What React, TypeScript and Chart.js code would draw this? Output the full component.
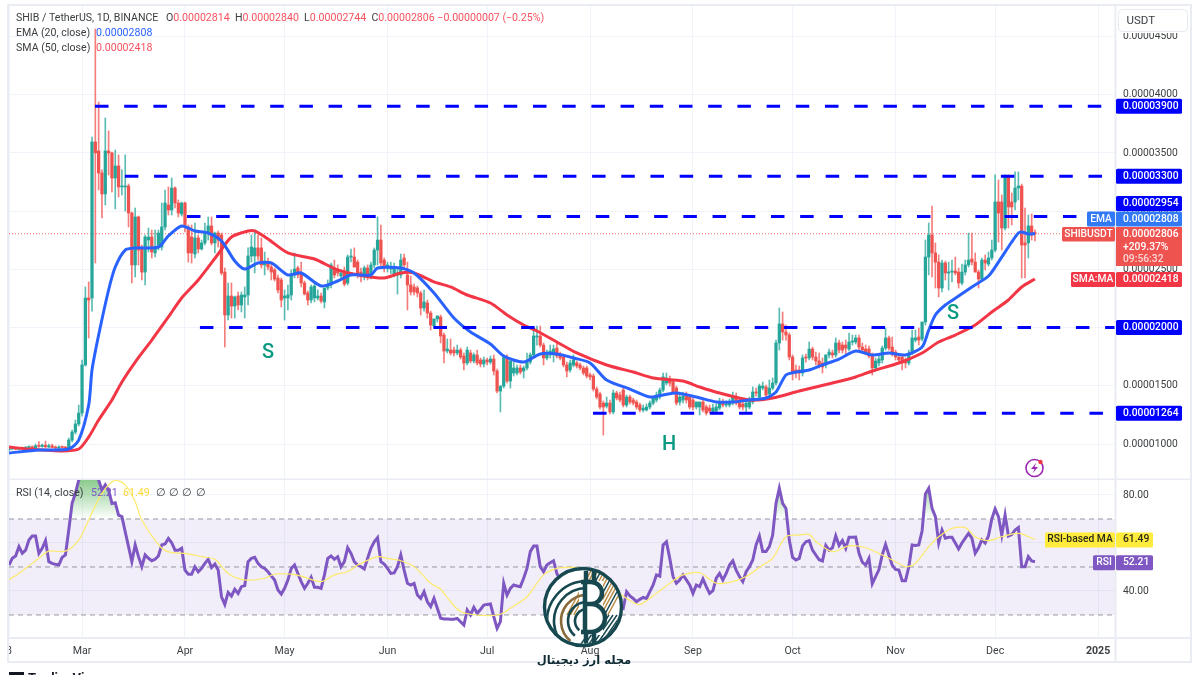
import { useEffect, useRef } from 'react';
import { Chart, registerables } from 'chart.js';

Chart.register(...registerables);
Chart.defaults.font.family = 'Roboto';

// one candle a day, prices in units of 0.00000001, first candle is index 0
const opens = [
  950,958,962,955,965,960,970,975,968,985,
  980,990,975,985,970,965,975,970,966,1034,
  1103,1172,1266,1679,2254,2254,3594,3517,3328,3148,
  3517,3500,3285,3388,3208,3208,3216,2984,2538,2950,
  2675,2477,2752,2778,2641,2709,2692,2864,3053,3010,
  3199,3070,2976,3070,2864,2778,2632,2770,2675,2727,
  2812,2873,2727,2812,2795,2477,2108,2271,2185,2271,
  2194,2263,2280,2615,2615,2684,2684,2538,2563,2520,
  2495,2426,2409,2254,2254,2280,2452,2512,2469,2383,
  2297,2237,2254,2254,2271,2220,2340,2366,2512,2503,
  2443,2469,2383,2606,2606,2563,2477,2435,2512,2435,
  2538,2666,2752,2580,2512,2503,2452,2452,2452,2598,
  2452,2366,2349,2340,2297,2168,2211,2125,2014,2074,
  2091,1936,1799,1807,1807,1782,1807,1756,1696,1782,
  1713,1765,1722,1687,1722,1704,1730,1627,1455,1498,
  1747,1541,1610,1610,1653,1627,1653,1704,1765,1919,
  1928,1850,1739,1765,1782,1824,1765,1747,1679,1636,
  1679,1696,1679,1653,1653,1593,1584,1472,1430,1352,
  1326,1352,1275,1438,1421,1464,1335,1404,1378,1361,
  1335,1292,1292,1318,1352,1378,1404,1464,1524,1550,
  1533,1481,1361,1378,1412,1404,1378,1318,1318,1361,
  1318,1309,1275,1283,1309,1361,1335,1335,1352,1404,
  1361,1344,1318,1318,1361,1447,1404,1481,1490,1430,
  1481,1524,1868,2031,1962,1936,1747,1636,1636,1610,
  1747,1739,1816,1747,1713,1696,1679,1765,1782,1765,
  1868,1850,1850,1816,1876,1876,1911,1833,1816,1816,
  1765,1653,1696,1722,1824,1911,1833,1790,1747,1747,
  1722,1696,1782,1893,1919,1902,2048,2606,2795,2641,
  2563,2340,2555,2469,2477,2486,2477,2383,2477,2538,
  2589,2563,2477,2417,2580,2546,2598,2666,3079,3079,
  2855,3294,3079,3079,3199,3216,2727,2727,2873,2814,
];
const highs = [
  965,972,970,972,975,980,985,985,1000,1020,
  1000,1025,1000,1000,985,985,985,980,1052,1120,
  1206,1335,1722,2349,2392,3637,4565,3938,3354,3800,
  3689,3508,3525,3483,3354,3483,3233,2993,3027,2958,
  2709,2795,2855,2838,2838,2838,3070,3182,3208,3285,
  3208,3096,3079,3079,2881,2881,2898,2795,2752,2898,
  2950,2950,2821,2830,2812,2512,2383,2383,2271,2306,
  2306,2349,2684,2795,2838,2795,2770,2649,2598,2563,
  2512,2452,2426,2323,2366,2495,2641,2529,2563,2400,
  2314,2366,2374,2323,2297,2340,2409,2555,2580,2538,
  2495,2520,2624,2675,2684,2580,2512,2529,2538,2563,
  2684,2950,2881,2598,2563,2563,2555,2512,2632,2632,
  2563,2443,2374,2357,2314,2323,2237,2142,2074,2100,
  2108,1953,1902,1902,1833,1850,1824,1782,1833,1807,
  1782,1807,1739,1747,1739,1756,1765,1644,1498,1765,
  1765,1739,1722,1679,1679,1670,1782,1782,2005,2014,
  2014,1868,1807,1850,1850,1876,1790,1765,1704,1722,
  1765,1713,1696,1670,1670,1610,1601,1490,1447,1370,
  1404,1378,1464,1455,1447,1481,1421,1421,1395,1378,
  1352,1335,1344,1370,1404,1447,1481,1610,1610,1584,
  1550,1498,1438,1447,1447,1421,1395,1361,1361,1378,
  1335,1335,1344,1344,1395,1387,1370,1387,1447,1438,
  1395,1361,1378,1404,1490,1481,1515,1533,1507,1550,
  1567,1893,2168,2134,2022,1953,1765,1679,1670,1765,
  1773,1876,1833,1790,1782,1739,1765,1816,1807,1911,
  1893,1876,1893,1953,1936,1936,1936,1868,1850,1842,
  1782,1739,1773,1842,1996,1928,1919,1807,1773,1765,
  1739,1807,1979,1979,1996,2048,2752,2898,3044,2727,
  2624,2580,2572,2563,2580,2606,2512,2546,2580,2812,
  2812,2641,2495,2598,2624,2649,2752,3311,3268,3139,
  3311,3311,3156,3337,3337,3233,3027,2967,2976,2840,
];
const lows = [
  945,950,950,950,955,955,962,960,960,970,
  972,970,968,965,958,960,962,955,957,1017,
  1086,1155,1240,1670,1911,2142,2555,3182,2941,3053,
  3311,3165,3019,3122,3139,3001,2864,2383,2435,2538,
  2409,2366,2649,2598,2606,2666,2666,2838,2967,2967,
  3027,2950,2958,2821,2563,2555,2598,2641,2666,2709,
  2752,2709,2641,2692,2452,1833,2065,2082,2082,2151,
  2134,2082,2194,2563,2469,2580,2512,2452,2495,2409,
  2400,2297,2177,2065,2151,2237,2426,2426,2349,2280,
  2194,2211,2220,2237,2211,2168,2323,2340,2426,2443,
  2426,2357,2366,2563,2520,2426,2392,2409,2409,2417,
  2512,2538,2512,2477,2477,2460,2435,2288,2426,2512,
  2151,2280,2280,2263,2108,2142,2082,1979,1996,2048,
  1868,1696,1782,1765,1756,1765,1730,1636,1679,1696,
  1696,1679,1662,1662,1679,1687,1593,1438,1275,1481,
  1524,1481,1584,1593,1601,1567,1636,1687,1747,1850,
  1833,1679,1722,1739,1704,1739,1722,1662,1576,1618,
  1662,1653,1636,1593,1567,1550,1455,1387,1301,1077,
  1309,1258,1258,1378,1361,1318,1318,1344,1335,1301,
  1275,1275,1283,1301,1335,1361,1387,1447,1507,1498,
  1430,1335,1335,1352,1352,1301,1292,1301,1249,1275,
  1249,1266,1258,1266,1292,1318,1318,1318,1335,1335,
  1301,1292,1275,1301,1344,1412,1387,1464,1404,1412,
  1464,1507,1807,1893,1893,1722,1550,1567,1550,1584,
  1704,1722,1722,1679,1653,1610,1653,1739,1739,1747,
  1782,1782,1765,1799,1850,1859,1807,1790,1765,1739,
  1593,1627,1670,1696,1807,1807,1756,1722,1704,1636,
  1653,1679,1765,1876,1850,1885,2022,2452,2435,2340,
  2263,2306,2409,2323,2392,2452,2340,2366,2452,2520,
  2538,2477,2340,2400,2495,2529,2580,2649,2735,2666,
  2838,2855,2881,3010,3096,2426,2426,2598,2752,2744,
];
const closes = [
  958,962,955,965,960,970,975,968,985,980,
  990,975,985,970,965,975,970,966,1034,1103,
  1172,1266,1679,2254,2237,3594,3500,3328,3148,3517,
  3500,3285,3388,3208,3216,3216,2984,2538,2950,2666,
  2477,2778,2778,2649,2692,2812,2864,3070,3010,3199,
  3070,2984,3070,2881,2641,2641,2770,2675,2727,2812,
  2873,2727,2812,2752,2469,2108,2271,2185,2263,2194,
  2280,2280,2615,2692,2684,2615,2538,2563,2520,2477,
  2417,2323,2237,2271,2280,2452,2503,2452,2383,2289,
  2237,2349,2357,2271,2228,2340,2366,2538,2452,2469,
  2469,2374,2606,2615,2520,2452,2435,2512,2435,2538,
  2666,2752,2555,2520,2538,2520,2520,2469,2580,2538,
  2366,2306,2306,2297,2168,2220,2125,2022,2074,2100,
  1928,1799,1816,1782,1782,1807,1747,1696,1807,1713,
  1765,1696,1687,1722,1704,1730,1627,1455,1498,1747,
  1541,1713,1653,1653,1618,1653,1704,1765,1928,1928,
  1850,1739,1765,1799,1816,1756,1739,1679,1627,1696,
  1722,1670,1653,1610,1584,1576,1472,1404,1318,1318,
  1352,1275,1438,1395,1378,1335,1404,1361,1352,1318,
  1292,1309,1318,1352,1404,1421,1464,1576,1567,1524,
  1447,1352,1404,1412,1378,1318,1318,1361,1361,1292,
  1266,1283,1309,1318,1361,1335,1344,1361,1404,1352,
  1318,1318,1352,1361,1447,1438,1498,1498,1421,1481,
  1524,1868,2031,1962,1936,1747,1610,1610,1610,1739,
  1739,1816,1747,1713,1679,1662,1765,1790,1765,1868,
  1807,1807,1824,1876,1885,1911,1833,1807,1790,1756,
  1653,1713,1730,1824,1911,1824,1790,1747,1722,1696,
  1696,1782,1911,1911,1893,2048,2606,2795,2641,2563,
  2340,2555,2469,2477,2486,2469,2383,2477,2538,2580,
  2563,2477,2417,2580,2555,2598,2666,3079,2984,2855,
  3294,3036,3036,3199,3216,2709,2709,2873,2795,2806,
];

const emaDays = [0,9,18,21,24,25,27,30,32,35,38,45,48,52,56,60,64,68,71,75,79,84,88,94,99,103,109,111,118,122,128,134,139,145,149,155,160,165,170,175,180,187,193,197,201,207,213,218,223,228,231,234,237,241,245,250,255,260,265,270,275,277,279,282,286,290,295,298,302,304,305,307,309];
const emaValues = [923,948,957,1034,1335,1636,1936,2323,2520,2666,2684,2692,2787,2873,2830,2812,2744,2572,2503,2555,2555,2452,2469,2357,2400,2452,2452,2512,2512,2469,2297,2082,1962,1859,1756,1704,1773,1773,1739,1696,1550,1472,1404,1421,1438,1404,1361,1361,1378,1395,1447,1593,1618,1636,1679,1730,1799,1765,1782,1765,1833,1979,2108,2194,2271,2349,2443,2563,2735,2812,2821,2804,2808];
const smaDays = [0,6,16,21,24,27,31,34,38,43,48,52,57,63,67,72,74,78,84,92,99,107,113,118,122,128,133,138,145,150,155,159,165,171,180,188,194,203,208,214,223,230,238,248,255,260,268,275,280,285,291,296,301,305,309];
const smaValues = [974,957,940,957,1060,1206,1378,1533,1704,1893,2091,2254,2409,2632,2778,2830,2830,2761,2641,2589,2495,2443,2426,2469,2469,2392,2349,2280,2211,2108,2022,1971,1876,1782,1679,1618,1567,1541,1490,1438,1378,1395,1455,1524,1576,1627,1696,1782,1876,1936,2022,2134,2237,2349,2418];

const levelPrices = [3900, 3300, 2954, 2000, 1264];
const levelStarts = [25.9, 34.9, 53.6, 57.5, 175.9];
const levelEnds = [330, 330, 322.6, 333.1, 330];
const lastPrice = 2806;

const patternLabels = ['S', 'H', 'S'];
const patternDays = [78, 198.8, 284.3];
const patternPrices = [1780, 990, 2115];

const priceTicks = [1000, 1500, 2000, 2500, 3000, 3500, 4000, 4500];
const tickDays = [0, 22, 53, 83, 114, 144, 175, 206, 236, 267, 297, 328];
const tickLabels = ['8', 'Mar', 'Apr', 'May', 'Jun', 'Jul', 'Aug', 'Sep', 'Oct', 'Nov', 'Dec', '2025'];

const rsiValues = [
  50.8,53.6,54.6,58.5,55.7,57,61.2,62.9,62.9,55.7,
  57.8,61,52.2,51.5,51.1,50.8,54,55,65.4,76.5,
  80.7,86.2,93,97,97,94.5,93.9,86.2,82,84.2,
  82,76.5,76.8,71.6,71,64.7,58.5,52.2,59.2,54.3,
  50.1,55,53.6,52.6,53.2,54.6,59.2,59.6,61.9,60.1,
  57,57,57.8,48.7,47,47,50.1,48,49.4,51.5,
  53.2,49.8,51.2,48.7,37.6,34.4,39.4,37.9,40.7,39,
  41.8,42.2,52.2,53.6,54,51.5,50.1,49.4,48,46.2,
  44.6,40.4,38.7,41.1,44.6,49.4,50.8,47.3,43.9,41.1,
  43.2,45.7,41.5,41.5,41.1,46.7,53.6,54.6,53.2,54.3,
  50.1,52.2,58,55.7,52.2,50.8,50.1,49.2,53.6,57.8,
  60.5,62.2,52.2,51.2,49.4,47.3,47.5,50.1,55,48.7,
  43.2,42.5,43.2,38.3,36.9,39.7,35.5,33.5,36.9,32.8,
  28.6,28.3,28.3,28.2,28.2,28.6,27.2,25.8,32.1,30,
  33.2,30.7,32.3,34.1,34.4,34.6,29.3,24.4,27.2,43.2,
  38.3,41.1,42.5,42.1,41.8,45.3,49.4,56.4,58.7,58.7,
  50.1,48,50.8,51.8,52.6,47.3,44.6,43.2,42.9,44.6,
  43.9,43.2,41.8,39.7,38.3,37.6,32,27.9,26.2,25.8,
  27.9,29.3,34.1,36.9,33.5,32.8,39.7,37.9,36.9,35.5,
  36.5,37.3,36.9,39.7,42.5,46.7,46.2,59.2,60.5,53.6,
  46,43.2,44.6,46.7,44.6,42.5,39,42.5,41.8,45,
  41.8,39,40.1,45.3,47.3,44.6,47.3,50.8,52.6,48.7,
  46,43.9,48,50.1,52.9,59.2,62.9,56.4,56.4,58.5,
  63.3,76.5,82.8,76.5,74.4,61.2,54,52.9,53.6,58.8,
  60.5,61,57,55,53,52.5,59,57,58,63,
  59,61,57.8,62.4,62.4,62.5,55.7,52,50.8,53.6,
  43,46,48.8,55,59.4,55,50.8,49,48.7,44.3,
  44.3,50,59.2,59,59.2,65,80.4,82.8,74.4,71,
  60.1,65.4,62,62.4,62.4,60,57.5,60,62,64,
  62,55.7,58,61.3,60,63,70,74.2,71,63.3,
  71.7,62.9,63.5,65.4,66.4,50.1,50.1,54.3,52.5,52.21,
];
const rsiMaDays = [0,3,7,9,12,17,21,24,28,32,35,38,40,46,49,53,58,62,66,71,77,80,85,88,94,98,102,105,111,114,118,122,127,130,133,136,139,144,148,151,156,161,165,170,173,178,183,187,190,195,199,203,208,213,218,222,227,230,234,238,241,243,248,253,258,263,267,270,273,277,280,284,288,291,295,299,304,309];
const rsiMaValues = [44.8,47.3,51.5,53.6,56.6,56.6,61.2,69.6,80.7,86.2,84.2,77.2,69.6,57.8,56,55.7,54.3,53.2,47.3,44.6,45.3,47,47,46.2,43.9,46.7,48,50.8,54.3,53.6,52.6,50.1,43.2,40.7,35.5,31.4,30.3,29.7,30.3,32.8,37.6,46.7,49.4,49.8,49.4,46,40,36,34.4,39,43.2,46.7,47.6,43.2,43.9,46,50.8,53.6,62.6,63.3,63.6,60.6,56.4,58.8,58,55,52.2,50.1,51.5,58.5,62.6,66.1,66.4,62.6,61,62.6,64,61.49];
const rsiBands = [70, 50, 30];
const rsiTicks = [40, 60, 80];

const UP = '#26a69a';
const DOWN = '#ef5350';
const UP_WICK = 'rgba(38,166,154,0.75)';
const DOWN_WICK = 'rgba(239,83,80,0.75)';
const GRID = '#f0f3fa';
const FRAME = '#e9ecf2';
const TEXT = '#3c4043';
const FONT = 'Roboto';
const LAST_X = 333.1;
const points = (days: number[], vals: number[]) => days.map((d, i) => ({ x: d, y: vals[i] }));
const price = (v: number) => (v / 1e8).toFixed(8);

const drawSegments = (ctx: CanvasRenderingContext2D, x: number, y: number, segs: [string, string][]) => {
  segs.forEach(([t, c]) => {
    ctx.fillStyle = c;
    ctx.fillText(t, x, y);
    x += ctx.measureText(t).width;
  });
};

const tag = (ctx: CanvasRenderingContext2D, x: number, y: number, w: number, h: number, bg: string, fg: string, text: string, center = false) => {
  ctx.fillStyle = bg;
  ctx.beginPath();
  ctx.roundRect(x, y, w, h, 1.5);
  ctx.fill();
  ctx.fillStyle = fg;
  ctx.textAlign = center ? 'center' : 'left';
  ctx.fillText(text, center ? x + w / 2 : x + 7, y + h / 2);
  ctx.textAlign = 'left';
};

// chart.js reserves room for the end labels; the panes here run edge to edge
const noEndPadding = (s: any) => {
  s.paddingTop = 0;
  s.paddingBottom = 0;
  s.paddingLeft = 0;
  s.paddingRight = 0;
};

const mainOverlay = {
  id: 'mainOverlay',
  afterDraw(chart: any) {
    const { ctx, scales } = chart;
    const yp = (v: number) => scales.y.getPixelForValue(v);
    ctx.save();
    // frame
    ctx.strokeStyle = FRAME;
    ctx.lineWidth = 2;
    ctx.strokeRect(8, 5, 1183, 600);
    ctx.beginPath();
    ctx.moveTo(1115.5, 5);
    ctx.lineTo(1115.5, 480);
    ctx.moveTo(8, 479.5);
    ctx.lineTo(1191, 479.5);
    ctx.stroke();

    // pattern letters
    ctx.fillStyle = '#089981';
    ctx.font = `500 20px ${FONT}`;
    ctx.textBaseline = 'middle';
    ctx.textAlign = 'center';
    patternLabels.forEach((s, i) => ctx.fillText(s, scales.x.getPixelForValue(patternDays[i]), yp(patternPrices[i])));
    ctx.textAlign = 'left';

    // legend
    ctx.font = `10.6px ${FONT}`;
    const red = '#f7525f';
    drawSegments(ctx, 16, 18.5, [['SHIB / TetherUS, 1D, BINANCE', TEXT]]);
    drawSegments(ctx, 166, 18.5, [
      ['O', TEXT], ['0.00002814', red], ['  H', TEXT], ['0.00002840', red], ['  L', TEXT], ['0.00002744', red],
      ['  C', TEXT], ['0.00002806', red], [' −0.00000007 (−0.25%)', red],
    ]);
    drawSegments(ctx, 16, 33.5, [['EMA (20, close)', TEXT]]);
    drawSegments(ctx, 96, 33.5, [['0.00002808', '#2962ff']]);
    drawSegments(ctx, 16, 48.5, [['SMA (50, close)', TEXT]]);
    drawSegments(ctx, 96, 48.5, [['0.00002418', red]]);

    // price tags
    ctx.font = `500 10.3px ${FONT}`;
    const W = 66;
    const blue = '#0000ff';
    [3900, 3300, 2000, 1264].forEach(v => tag(ctx, 1116, yp(v) - 7.5, W, 15, blue, '#fff', price(v)));
    tag(ctx, 1116, 196, W, 15, blue, '#fff', price(2954));
    tag(ctx, 1087, 211.5, 28, 15, '#3179f5', '#fff', 'EMA', true);
    tag(ctx, 1116, 211.5, W, 15, '#3179f5', '#fff', price(2808));
    tag(ctx, 1062, 227, 53, 14.5, DOWN, '#fff', 'SHIBUSDT', true);
    ctx.fillStyle = DOWN;
    ctx.fillRect(1116, 227, W, 39);
    ctx.fillStyle = '#fff';
    ctx.fillText(price(lastPrice), 1123, 234.5);
    ctx.fillText('+209.37%', 1123, 247);
    ctx.fillStyle = '#fbd5d4';
    ctx.fillText('09:56:32', 1123, 259.5);
    tag(ctx, 1071, 272, 44, 15, '#f23645', '#fff', 'SMA:MA', true);
    tag(ctx, 1116, 272, W, 15, '#f23645', '#fff', price(2418));

    // currency button
    ctx.fillStyle = '#fff';
    ctx.strokeStyle = '#e6e9f0';
    ctx.lineWidth = 1;
    ctx.fillRect(1116.5, 6, 73, 27);
    ctx.beginPath();
    ctx.roundRect(1118.5, 9.5, 69, 22, 4);
    ctx.stroke();
    ctx.font = `11.5px ${FONT}`;
    ctx.fillStyle = TEXT;
    ctx.fillText('USDT', 1126.5, 21);

    // bolt icon
    ctx.strokeStyle = '#9c27b0';
    ctx.lineWidth = 1.6;
    ctx.beginPath();
    ctx.arc(1034.5, 468, 8.5, 0, Math.PI * 2);
    ctx.stroke();
    ctx.fillStyle = '#9c27b0';
    ctx.beginPath();
    ctx.moveTo(1036.5, 462.5);
    ctx.lineTo(1031, 469);
    ctx.lineTo(1034.5, 469);
    ctx.lineTo(1032.5, 473.5);
    ctx.lineTo(1038, 467);
    ctx.lineTo(1034.5, 467);
    ctx.closePath();
    ctx.fill();
    ctx.fillStyle = '#f23645';
    ctx.beginPath();
    ctx.arc(1040.5, 462, 2.2, 0, Math.PI * 2);
    ctx.fill();
    ctx.restore();
  },
};

const drawLogo = (ctx: CanvasRenderingContext2D, cx: number, cy: number, r: number) => {
  const teal = '#17484f';
  const gold = '#b88a45';
  ctx.save();
  ctx.fillStyle = '#fff';
  ctx.beginPath();
  ctx.arc(cx, cy, r, 0, Math.PI * 2);
  ctx.fill();
  ctx.save();
  ctx.beginPath();
  ctx.arc(cx, cy, r - 3, 0, Math.PI * 2);
  ctx.clip();
  // hatch on the right: gold on top, teal further down
  ctx.lineWidth = 1.5;
  for (let k = 0; k < 13; k++) {
    ctx.strokeStyle = k % 4 === 3 ? teal : gold;
    const s = cx + 10 + k * 3.4;
    ctx.beginPath();
    ctx.moveTo(s, cy - r);
    ctx.lineTo(s - 26, cy + 8);
    ctx.stroke();
  }
  ctx.strokeStyle = teal;
  for (let k = 0; k < 6; k++) {
    const s = cx + 18 + k * 4;
    ctx.beginPath();
    ctx.moveTo(s, cy + 8);
    ctx.lineTo(s - 22, cy + r);
    ctx.stroke();
  }
  ctx.fillStyle = '#fff';
  ctx.fillRect(cx - 4, cy - 26, 24, 54);
  // circuit lines on the left
  ctx.lineWidth = 2.6;
  [12, 19, 26, 33, 40].forEach((rad, k) => {
    ctx.strokeStyle = k === 2 ? '#8a6a3a' : teal;
    ctx.beginPath();
    ctx.arc(cx + 4, cy + 14, rad, Math.PI * 0.72, Math.PI * 1.5);
    ctx.stroke();
  });
  ctx.restore();
  // ring
  ctx.strokeStyle = teal;
  ctx.lineWidth = 3.4;
  ctx.beginPath();
  ctx.arc(cx, cy, r - 1.5, 0, Math.PI * 2);
  ctx.stroke();
  // coin mark
  const bx = cx + 2;
  ctx.lineWidth = 4.5;
  ctx.beginPath();
  ctx.moveTo(bx, cy - 26);
  ctx.lineTo(bx, cy + 25);
  ctx.moveTo(bx - 4, cy - 25);
  ctx.lineTo(bx + 6, cy - 25);
  ctx.arc(bx + 6, cy - 14, 11, -Math.PI / 2, Math.PI / 2);
  ctx.lineTo(bx, cy - 3);
  ctx.moveTo(bx + 6, cy - 3);
  ctx.arc(bx + 6, cy + 11, 14, -Math.PI / 2, Math.PI / 2);
  ctx.lineTo(bx - 4, cy + 25);
  ctx.moveTo(bx + 1, cy - 26);
  ctx.lineTo(bx + 1, cy - 36);
  ctx.moveTo(bx + 9, cy - 26);
  ctx.lineTo(bx + 9, cy - 36);
  ctx.moveTo(bx + 1, cy + 25);
  ctx.lineTo(bx + 1, cy + 36);
  ctx.moveTo(bx + 9, cy + 25);
  ctx.lineTo(bx + 9, cy + 36);
  ctx.stroke();
  ctx.restore();
};

const rsiOverlay = {
  id: 'rsiOverlay',
  afterDraw(chart: any) {
    const { ctx, scales } = chart;
    const yp = (v: number) => scales.y.getPixelForValue(v);
    ctx.save();
    ctx.fillStyle = '#fff';
    ctx.fillRect(0, 0, 8, 195);
    // frame
    ctx.strokeStyle = FRAME;
    ctx.lineWidth = 2;
    ctx.beginPath();
    ctx.moveTo(8, 0);
    ctx.lineTo(8, 182);
    ctx.lineTo(1191, 182);
    ctx.lineTo(1191, 0);
    ctx.moveTo(8, 158);
    ctx.lineTo(1191, 158);
    ctx.moveTo(1115.5, 0);
    ctx.lineTo(1115.5, 182);
    ctx.stroke();

    ctx.textBaseline = 'middle';
    ctx.font = `10.6px ${FONT}`;
    drawSegments(ctx, 16, 13.5, [['RSI (14, close)', TEXT]]);
    drawSegments(ctx, 91, 13.5, [['52.21', '#7e57c2']]);
    drawSegments(ctx, 123, 13.5, [['61.49', '#fdd835']]);
    drawSegments(ctx, 156, 13.5, [['∅', TEXT]]);
    drawSegments(ctx, 169, 13.5, [['∅', TEXT]]);
    drawSegments(ctx, 182, 13.5, [['∅', TEXT]]);
    drawSegments(ctx, 196, 13.5, [['∅', TEXT]]);

    // tags
    ctx.font = `500 10.3px ${FONT}`;
    const maY = yp(61.49) - 7;
    tag(ctx, 1045, maY, 70, 15, '#ffeb3b', '#2a2a1a', 'RSI-based MA', true);
    tag(ctx, 1116, maY, 37, 15, '#ffeb3b', '#2a2a1a', '61.49');
    const rY = yp(52.21) - 6.5;
    tag(ctx, 1093, rY, 22, 15, '#7e57c2', '#fff', 'RSI', true);
    tag(ctx, 1116, rY, 37, 15, '#7e57c2', '#fff', '52.21');

    // watermark
    drawLogo(ctx, 583, 127, 40);
    ctx.fillStyle = '#0f2a33';
    ctx.font = 'bold 11.5px "DejaVu Sans"';
    ctx.textAlign = 'center';
    ctx.direction = 'rtl';
    ctx.fillText('مجله ارز دیجیتال', 584, 181);
    ctx.direction = 'ltr';

    // clipped footer
    ctx.textAlign = 'left';
    ctx.fillStyle = '#131722';
    ctx.fillRect(9, 192, 15, 3);
    ctx.font = `bold 13px ${FONT}`;
    ctx.textBaseline = 'alphabetic';
    ctx.fillText('TradingView', 28, 202);
    ctx.restore();
  },
};

export default function App() {
  const mainRef = useRef<HTMLCanvasElement>(null);
  const rsiRef = useRef<HTMLCanvasElement>(null);

  useEffect(() => {
    if (!mainRef.current || !rsiRef.current) return;
    const isUp = (c: any) => closes[c.dataIndex] >= opens[c.dataIndex];
    const baseX = {
      type: 'linear' as const,
      min: 0,
      max: LAST_X,
      offset: false,
      afterBuildTicks: (s: any) => { s.ticks = tickDays.map(v => ({ value: v })); },
      grid: { color: GRID, drawTicks: false, offset: false },
      border: { display: false },
    };

    const mainChart = new Chart(mainRef.current, {
      type: 'bar',
      data: {
        datasets: [
          {
            type: 'bar',
            data: highs.map((h, i) => ({ x: i, y: [lows[i], h] })),
            backgroundColor: (c: any) => (isUp(c) ? UP_WICK : DOWN_WICK),
            barThickness: 1,
            grouped: false,
            order: 5,
          },
          {
            type: 'bar',
            data: opens.map((o, i) => ({ x: i, y: [o, closes[i]] })),
            backgroundColor: (c: any) => (isUp(c) ? UP : DOWN),
            barThickness: 2.6,
            minBarLength: 1,
            grouped: false,
            order: 4,
          },
          {
            type: 'line',
            data: [{ x: 0, y: lastPrice }, { x: LAST_X, y: lastPrice }],
            borderColor: 'rgba(239,83,80,0.9)',
            borderWidth: 1,
            borderDash: [1, 2],
            pointRadius: 0,
            order: 6,
          },
          {
            type: 'line',
            data: points(smaDays, smaValues),
            borderColor: '#f23645',
            borderWidth: 3,
            tension: 0.25,
            pointRadius: 0,
            order: 3,
          },
          {
            type: 'line',
            data: points(emaDays, emaValues),
            borderColor: '#2962ff',
            borderWidth: 3,
            tension: 0.25,
            pointRadius: 0,
            order: 2,
          },
          ...levelPrices.map((p, i) => ({
            type: 'line' as const,
            data: [{ x: levelStarts[i], y: p }, { x: levelEnds[i], y: p }],
            borderColor: '#0000ff',
            borderWidth: 3,
            borderDash: [13.5, 15.7],
            pointRadius: 0,
            order: 1,
          })),
        ],
      },
      options: {
        animation: false,
        responsive: false,
        layout: { padding: { left: 9, right: 10, top: 6, bottom: 0 } },
        plugins: { legend: { display: false }, tooltip: { enabled: false } },
        scales: {
          x: {
            ...baseX,
            ticks: { display: false },
            afterFit: (s: any) => { s.height = 0; noEndPadding(s); },
          },
          y: {
            position: 'right',
            min: 691,
            max: 4762,
            afterBuildTicks: (s: any) => { s.ticks = priceTicks.map(v => ({ value: v })); },
            afterFit: (s: any) => { s.width = 75; noEndPadding(s); },
            grid: { color: GRID, drawTicks: false },
            border: { display: false },
            ticks: { padding: 8, color: TEXT, font: { size: 10.3 }, callback: (v: any) => price(v) },
          },
        },
      },
      plugins: [mainOverlay],
    } as any);

    const rsiCtx = rsiRef.current.getContext('2d') as CanvasRenderingContext2D;
    const overbought = rsiCtx.createLinearGradient(0, 0, 0, 39);
    overbought.addColorStop(0, 'rgba(76,175,80,0.65)');
    overbought.addColorStop(1, 'rgba(76,175,80,0)');

    const rsiChart = new Chart(rsiRef.current, {
      type: 'line',
      data: {
        datasets: [
          {
            data: [{ x: 0, y: rsiBands[0] }, { x: LAST_X, y: rsiBands[0] }],
            borderColor: '#9598a1',
            borderWidth: 1,
            borderDash: [5, 4],
            pointRadius: 0,
            fill: '+2',
            backgroundColor: 'rgba(126,87,194,0.1)',
            order: 5,
          },
          {
            data: [{ x: 0, y: rsiBands[1] }, { x: LAST_X, y: rsiBands[1] }],
            borderColor: '#9598a1',
            borderWidth: 1,
            borderDash: [5, 4],
            pointRadius: 0,
            order: 4,
          },
          {
            data: [{ x: 0, y: rsiBands[2] }, { x: LAST_X, y: rsiBands[2] }],
            borderColor: '#9598a1',
            borderWidth: 1,
            borderDash: [5, 4],
            pointRadius: 0,
            order: 3,
          },
          {
            data: points(rsiMaDays, rsiMaValues),
            borderColor: '#fdea6a',
            borderWidth: 1.2,
            tension: 0.3,
            pointRadius: 0,
            order: 1,
          },
          {
            data: rsiValues.map((v, i) => ({ x: i, y: v })),
            borderColor: '#7e57c2',
            borderWidth: 3,
            pointRadius: 0,
            fill: { target: { value: 70 }, above: overbought, below: 'transparent' },
            order: 2,
          },
        ],
      },
      options: {
        animation: false,
        responsive: false,
        layout: { padding: { left: 9, right: 10, top: 0, bottom: 0 } },
        plugins: { legend: { display: false }, tooltip: { enabled: false } },
        scales: {
          x: {
            ...baseX,
            afterFit: (s: any) => { s.height = 37; noEndPadding(s); },
            ticks: {
              autoSkip: false,
              maxRotation: 0,
              padding: 7,
              color: TEXT,
              font: (c: any) => ({ size: 10.6, weight: c.tick && c.tick.value === 328 ? 'bold' : 'normal' }),
              callback: (v: any) => tickLabels[tickDays.indexOf(v)],
            },
          },
          y: {
            position: 'right',
            min: 20.4,
            max: 86.25,
            afterBuildTicks: (s: any) => { s.ticks = rsiTicks.map(v => ({ value: v })); },
            afterFit: (s: any) => { s.width = 75; noEndPadding(s); },
            grid: { color: GRID, drawTicks: false },
            border: { display: false },
            ticks: {
              padding: 8,
              color: TEXT,
              font: { size: 10.3 },
              callback: (v: any) => (v === 60 ? '' : v.toFixed(2)),
            },
          },
        },
      },
      plugins: [rsiOverlay],
    } as any);

    return () => {
      mainChart.destroy();
      rsiChart.destroy();
    };
  }, []);

  return (
    <div style={{ position: 'fixed', left: 0, top: 0, width: 1200, height: 675, background: '#fff', overflow: 'hidden' }}>
      <canvas ref={mainRef} width={1200} height={480} style={{ position: 'absolute', left: 0, top: 0 }} />
      <canvas ref={rsiRef} width={1200} height={195} style={{ position: 'absolute', left: 0, top: 480 }} />
    </div>
  );
}
